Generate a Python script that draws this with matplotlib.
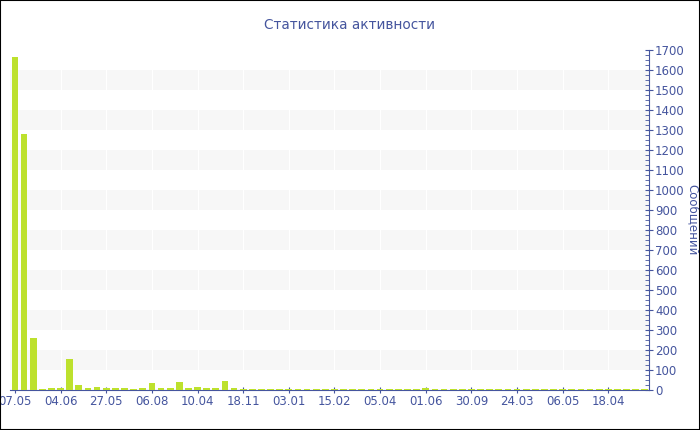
import numpy as np
import matplotlib
matplotlib.use("Agg")
import matplotlib.pyplot as plt
from matplotlib.patches import Rectangle

# messages per period
values = [1665, 1280, 260, 7, 8, 10, 153, 25, 10, 15,
          8, 10, 10, 5, 10, 33, 10, 10, 38, 12,
          15, 10, 8, 45, 8, 7, 6, 6, 7, 6,
          6, 6, 7, 6, 6, 7, 6, 6, 7, 7,
          6, 6, 7, 6, 7, 9, 7, 6, 6, 6,
          7, 6, 6, 7, 6, 6, 6, 7, 6, 6,
          7, 6, 6, 6, 7, 6, 6, 6, 7, 6]
tick_labels = ["07.05", "04.06", "27.05", "06.08", "10.04", "18.11", "03.01",
               "15.02", "05.04", "01.06", "30.09", "24.03", "06.05", "18.04"]
tick_step = 5

blue = "#45559e"
bar_color = "#bde12d"

fig = plt.figure(figsize=(7, 4.3), dpi=100)
ax = fig.add_axes([10.4 / 700, 1 - 390 / 430, 639 / 700, 340 / 430])

x = np.arange(len(values))
ax.set_xlim(-0.5, len(values) - 0.5)
ax.set_ylim(0, 1700)

# alternating bands
for lo in range(100, 1700, 200):
    ax.axhspan(lo, lo + 100, color="#f7f7f7", lw=0, zorder=0)
tick_pos = x[::tick_step][:len(tick_labels)]
for t in tick_pos:
    ax.axvline(t, color="white", lw=0.8, zorder=0.5)

ax.bar(x, values, width=0.74, color=bar_color, zorder=2)

ax.set_xticks(tick_pos)
ax.set_xticklabels(tick_labels)
ax.set_yticks(range(0, 1701, 100))
ax.set_yticks(range(0, 1701, 25), minor=True)
ax.yaxis.tick_right()
ax.yaxis.set_label_position("right")
ax.set_ylabel("Сообщений", color=blue, fontsize=8.5, rotation=270, labelpad=-2)
ax.yaxis.set_label_coords(1.078, 0.5)

ax.tick_params(axis="x", colors=blue, labelsize=8.5, direction="inout", length=5, width=0.8, pad=1)
ax.tick_params(axis="y", colors=blue, labelsize=8.5, direction="inout", length=6, width=0.8, pad=1)
ax.tick_params(axis="y", which="minor", colors=blue, direction="in", length=3, width=0.6)

for s in ["top", "left"]:
    ax.spines[s].set_visible(False)
ax.spines["bottom"].set_color(blue)
ax.spines["right"].set_color(blue)
ax.spines["bottom"].set_zorder(1.5)

fig.text(0.5, 1 - 25 / 430, "Статистика активности", ha="center", va="center",
         color=blue, fontsize=9.8)

fig.patches.append(Rectangle((0, 0), 1, 1, transform=fig.transFigure,
                             fill=False, edgecolor="black", lw=1.5))

fig.savefig("out.png", dpi=100)
